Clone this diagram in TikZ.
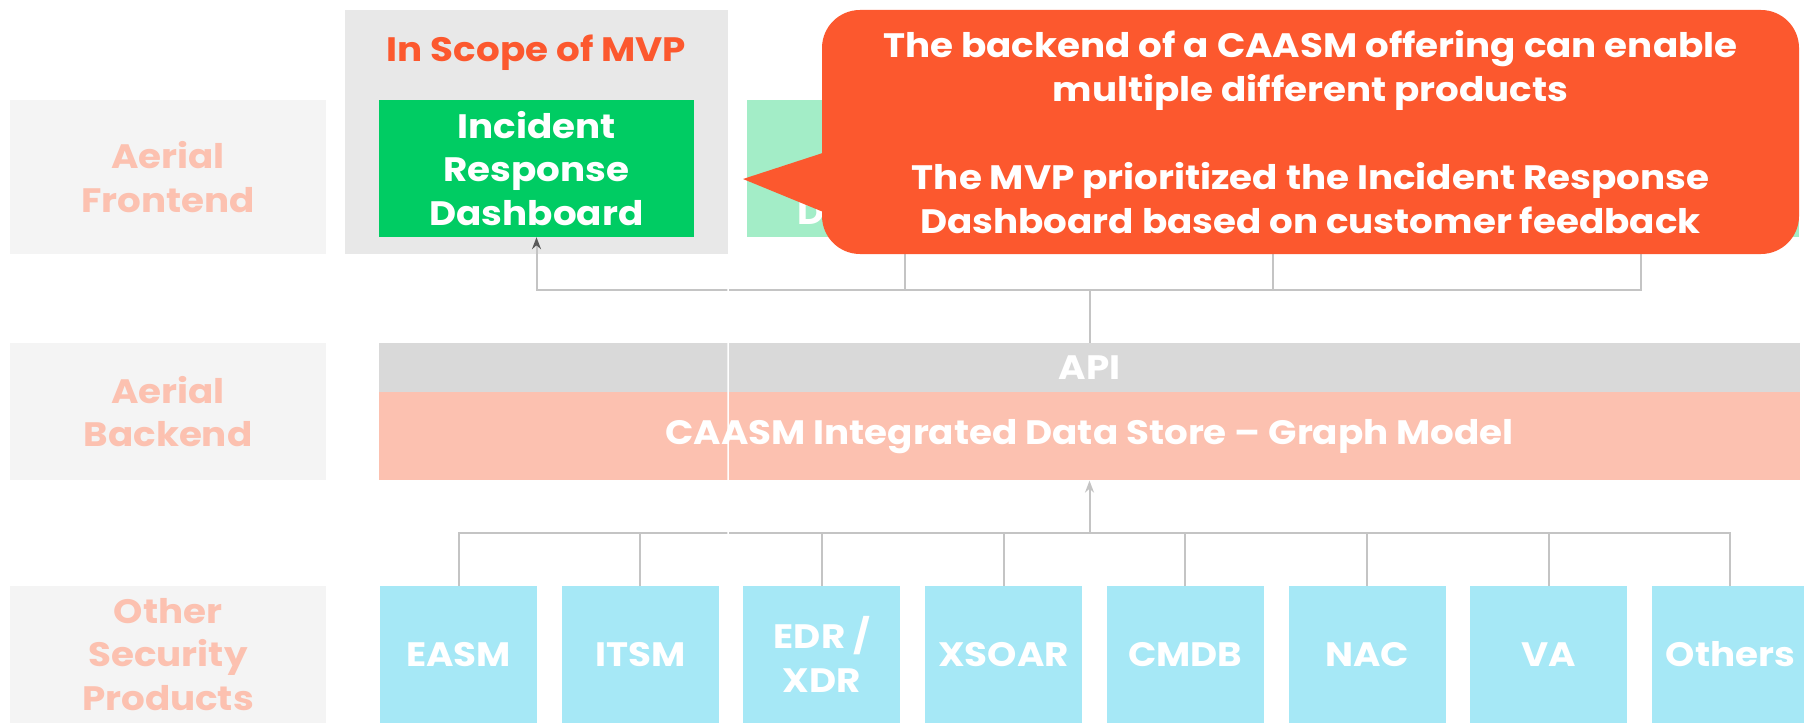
\documentclass[tikz,border=0pt]{standalone}
\usepackage{fontspec}
\setmainfont{Poppins}[FakeStretch=1.1]
\usetikzlibrary{positioning,arrows.meta}

\definecolor{panel}{HTML}{F4F4F4}
\definecolor{salmon}{HTML}{FCC1B0}
\definecolor{scopegray}{HTML}{E8E8E8}
\definecolor{hot}{HTML}{FC582E}
\definecolor{mvpgreen}{HTML}{00CC63}
\definecolor{paleg}{HTML}{A3EDC7}
\definecolor{apigray}{HTML}{D9D9D9}
\definecolor{toolblue}{HTML}{A6E8F6}
\definecolor{wiregray}{HTML}{C4C4C4}
\definecolor{tipgray}{HTML}{595959}

\begin{document}
\begin{tikzpicture}[x=1bp,y=-1bp,
		every node/.style={font=\fontsize{34}{44}\selectfont\bfseries,align=center,inner sep=0pt},
		layer/.style={fill=panel,text=salmon,minimum width=316bp,minimum height=137bp},
		product/.style={fill=mvpgreen,text=white,minimum width=315bp,minimum height=137bp,node distance=368.3bp},
		tool/.style={fill=toolblue,text=white,minimum width=157bp,minimum height=137bp,node distance=181.7bp},
		wire/.style={draw=wiregray,line width=2bp},
		marrow/.style={wire,-{Stealth[length=12bp,width=9bp]}}]
	\useasboundingbox (0,0) rectangle (1804,724);

	% layers
	\node[layer,minimum height=154bp] (front) at (168,177) {Aerial\\Frontend};
	\node[layer] (back) at (168,411.5) {Aerial\\Backend};
	\node[layer] (other) at (168,654.5) {Other\\Security\\Products};

	% frontend
	\node[fill=scopegray,minimum width=383bp,minimum height=244bp] (scope) at (536.5,132) {};
	\node[text=hot] (mvp) at (536.5,53) {In Scope of MVP};
	\node[product] (ir) at (536.5,168.5) {Incident\\Response\\Dashboard};
	\node[product,fill=paleg] (asset) [right of=ir] {Asset\\Inventory\\Dashboard};
	\node[product,fill=paleg] (p3) [right of=asset] {};
	\node[product,fill=paleg] (p4) [right of=p3] {};

	% backend
	\node[fill=apigray,text=white,minimum width=1421bp,minimum height=49bp] (api) at (1089.5,367.5) {API};
	\node[fill=salmon,text=white,minimum width=1421bp,minimum height=88bp] (store) [below=0pt of api] {CAASM Integrated Data Store – Graph Model};

	% other products
	\node[tool] (easm) at (458.5,654.5) {EASM};
	\node[tool] (itsm) [right of=easm] {ITSM};
	\node[tool] (edr) [right of=itsm] {EDR /\\XDR};
	\node[tool] (xsoar) [right of=edr] {XSOAR};
	\node[tool] (cmdb) [right of=xsoar] {CMDB};
	\node[tool] (nac) [right of=cmdb] {NAC};
	\node[tool] (va) [right of=nac] {VA};
	\node[tool] (others) [right of=va] {Others};

	% connection
	\coordinate (hub) at (1089.5,290);
	\coordinate (bus) at (1089.5,533);
	\draw [wire] (api) -- (hub);
	\draw [wire,-{Stealth[length=12bp,width=9bp,color=tipgray]}] (hub) -| (ir);
	\foreach \p in {asset,p3,p4} \draw [wire] (hub) -| (\p);
	\draw [marrow] (bus) -- (store);
	\foreach \t in {easm,itsm,edr,xsoar,cmdb,nac,va,others} \draw [wire] (bus) -| (\t);

	\coordinate (seam) at (728,545);
	\draw [white,line width=1.5bp] (scope.south east) -- (seam);

	% callout
	\node[fill=hot,text=white,rounded corners=38bp,minimum width=977bp,minimum height=244bp] (note) at (1310.5,132)
		{The backend of a CAASM offering can enable\\multiple different products\\[44bp]The MVP prioritized the Incident Response\\Dashboard based on customer feedback};
	\coordinate (tip) at (743,179);
	\fill [hot] (tip) -- ([xshift=4bp,yshift=-20bp]note.west) -- ([xshift=4bp,yshift=-81bp]note.west) -- cycle;
\end{tikzpicture}
\end{document}
